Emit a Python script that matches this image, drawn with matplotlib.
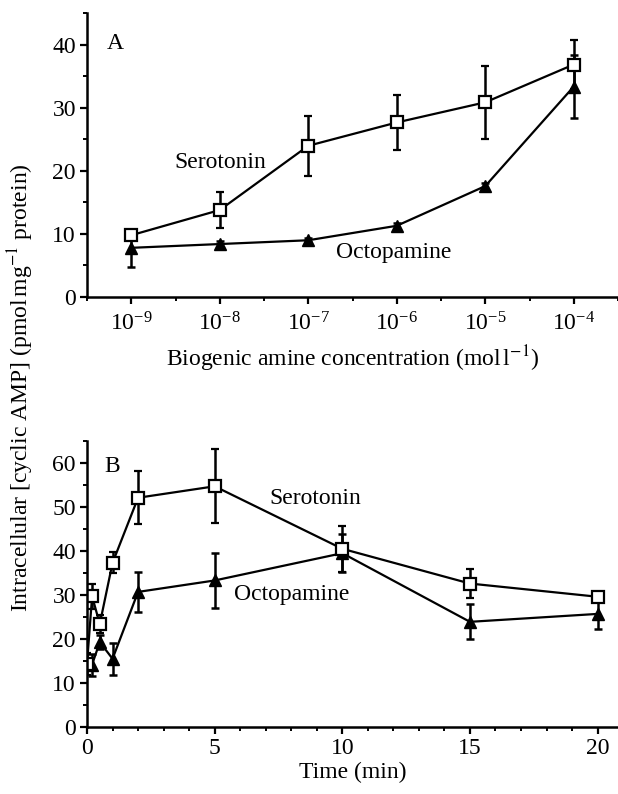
import matplotlib
matplotlib.use('Agg')
import matplotlib.pyplot as plt
import matplotlib.ticker as mticker
import numpy as np

plt.rcParams['font.family'] = ['Liberation Serif', 'DejaVu Serif']
plt.rcParams['mathtext.fontset'] = 'stix'
plt.rcParams['font.size'] = 17

# panel A: concentration response
conc = [1e-9, 1e-8, 1e-7, 1e-6, 1e-5, 1e-4]
sero_a = [9.8, 13.8, 24.0, 27.7, 30.9, 36.9]
sero_a_err = [0.7, 2.9, 4.8, 4.3, 5.8, 3.9]
octo_a = [7.8, 8.4, 9.0, 11.3, 17.6, 33.4]
octo_a_err = [3.0, 0.5, 0.3, 0.5, 0.5, 5.0]

# panel B: time course
time_s = [0, 0.2, 0.5, 1, 2, 5, 10, 15, 20]
sero_b = [14.4, 29.7, 23.4, 37.3, 52.1, 54.7, 40.5, 32.6, 29.6]
sero_b_err = [2.5, 2.9, 2.0, 2.4, 6.0, 8.4, 5.2, 3.3, 1.0]
time_o = [0.2, 0.5, 1, 2, 5, 10, 15, 20]
octo_b = [14.2, 19.3, 15.5, 30.7, 33.3, 39.5, 23.9, 25.7]
octo_b_err = [2.5, 1.5, 3.7, 4.6, 6.3, 4.3, 4.0, 3.5]

fig = plt.figure(figsize=(6.18, 7.94), dpi=100)
ax_a = fig.add_axes([0.1408, 0.626, 0.8592, 0.357])
ax_b = fig.add_axes([0.1408, 0.0844, 0.8592, 0.3602])

err_kw = dict(color='black', lw=1.6, capsize=3, capthick=1.8, elinewidth=1.8)
fs = 17


def style_axis(ax):
    for side in ['top', 'right']:
        ax.spines[side].set_visible(False)
    for side in ['left', 'bottom']:
        ax.spines[side].set_linewidth(1.8)
    ax.tick_params(which='major', direction='out', length=5, width=1.6, labelsize=fs, pad=3)
    ax.tick_params(which='minor', direction='out', length=3, width=1.4)


# panel A
ax_a.errorbar(conc, octo_a, yerr=octo_a_err, marker='^', ms=8, mfc='black', mec='black', **err_kw)
ax_a.errorbar(conc, sero_a, yerr=sero_a_err, marker='s', ms=8, mfc='white', mec='black', mew=1.6, **err_kw)
ax_a.set_xscale('log')
ax_a.set_xlim(10 ** -9.5, 10 ** -3.5)
ax_a.set_ylim(0, 45)
ax_a.xaxis.set_major_locator(mticker.FixedLocator(conc))
ax_a.xaxis.set_minor_locator(mticker.FixedLocator([10 ** (k + 0.5) for k in range(-10, -3)]))
ax_a.xaxis.set_minor_formatter(mticker.NullFormatter())
ax_a.yaxis.set_major_locator(mticker.MultipleLocator(10))
ax_a.yaxis.set_minor_locator(mticker.MultipleLocator(5))
style_axis(ax_a)
ax_a.tick_params(axis='x', which='major', pad=6)
ax_a.set_xlabel('Biogenic amine concentration (mol$\\,$l$^{-1}$)', fontsize=fs, labelpad=6)
ax_a.text(10 ** -9.18, 40.2, 'A', ha='center', va='center', fontsize=fs)
ax_a.text(1e-8, 21.4, 'Serotonin', ha='center', va='center', fontsize=fs)
ax_a.text(10 ** -6.04, 7.1, 'Octopamine', ha='center', va='center', fontsize=fs)

# panel B
ax_b.errorbar(time_o, octo_b, yerr=octo_b_err, marker='^', ms=8, mfc='black', mec='black', **err_kw)
ax_b.errorbar(time_s, sero_b, yerr=sero_b_err, marker='s', ms=8, mfc='white', mec='black', mew=1.6, **err_kw)
ax_b.set_xlim(0, 20.8)
ax_b.set_ylim(0, 65)
ax_b.xaxis.set_major_locator(mticker.MultipleLocator(5))
ax_b.xaxis.set_minor_locator(mticker.MultipleLocator(1))
ax_b.yaxis.set_major_locator(mticker.MultipleLocator(10))
ax_b.yaxis.set_minor_locator(mticker.MultipleLocator(5))
style_axis(ax_b)
ax_b.set_xlabel('Time (min)', fontsize=fs, labelpad=2)
ax_b.text(1.0, 59.1, 'B', ha='center', va='center', fontsize=fs)
ax_b.text(8.93, 52.0, 'Serotonin', ha='center', va='center', fontsize=fs)
ax_b.text(8.0, 30.0, 'Octopamine', ha='center', va='center', fontsize=fs)

fig.text(0.034, 1 - 388 / 794, 'Intracellular [cyclic AMP] (pmol$\\,$mg$^{-1}$ protein)',
         rotation=90, ha='center', va='center', fontsize=fs)

fig.savefig('out.png', dpi=100)
